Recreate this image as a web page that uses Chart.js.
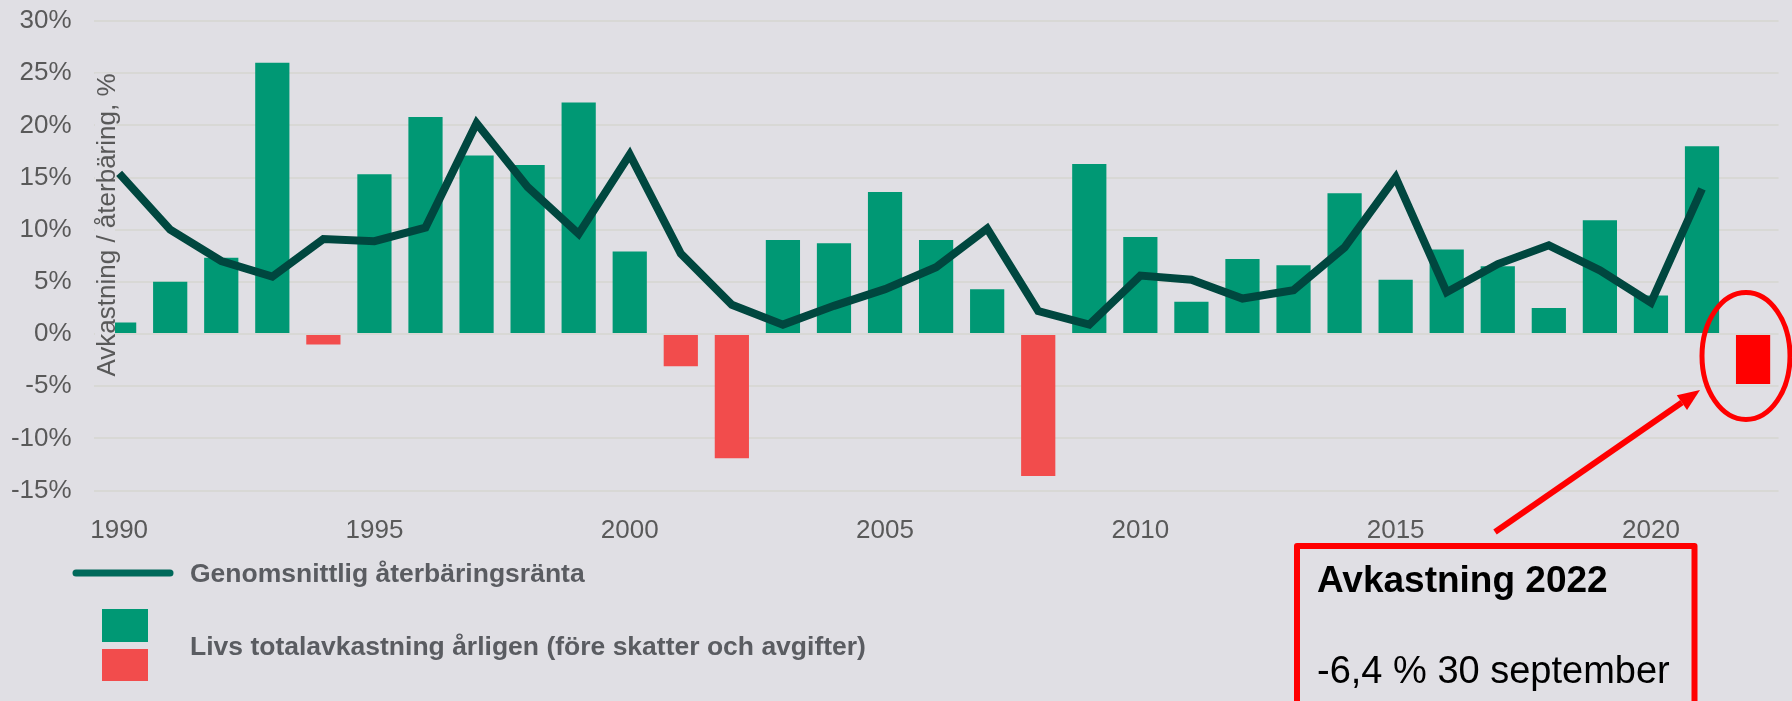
<!DOCTYPE html>
<html><head><meta charset="utf-8">
<script src="https://cdn.jsdelivr.net/npm/chart.js@4.4.0/dist/chart.umd.min.js"></script>
<style>
html,body{margin:0;padding:0;background:#e0dfe4;overflow:hidden}
#wrap{position:relative;width:1792px;height:701px}
</style></head>
<body><div id="wrap"><canvas id="c"></canvas></div>
<script>
// ---- data ----
const years = [1990,1991,1992,1993,1994,1995,1996,1997,1998,1999,2000,2001,2002,2003,2004,2005,2006,2007,2008,2009,2010,2011,2012,2013,2014,2015,2016,2017,2018,2019,2020,2021,2022];
const totalReturn = [1.1,5.0,7.3,26.0,-1.0,15.3,20.8,17.1,16.2,22.2,7.9,-3.1,-11.9,9.0,8.7,13.6,9.0,4.3,-13.6,16.3,9.3,3.1,7.2,6.6,13.5,5.2,8.1,6.5,2.5,10.9,3.7,18.0,-4.8];
const bonusRate = [15.4,10.0,7.0,5.5,9.1,8.9,10.2,20.2,14.1,9.6,17.2,7.7,2.8,0.9,2.7,4.3,6.4,10.1,2.2,0.9,5.6,5.2,3.4,4.2,8.3,15.0,4.0,6.7,8.5,6.1,3.0,13.9,null];
const xTickEvery = 5;
const yMin = -15, yMax = 30, yStep = 5;
const lineLabel = 'Genomsnittlig återbäringsränta';
const barLabel = 'Livs totalavkastning årligen (före skatter och avgifter)';
const yTitle = 'Avkastning / återbäring, %';
const noteTitle = 'Avkastning 2022';
const noteText = '-6,4 % 30 september';

// ---- styles ----
const FAMILY = '"Liberation Sans", Arial, Helvetica, sans-serif';
const BG = '#e0dfe4';
const GREEN = '#009874', RED = '#f24c4c', RED2022 = '#ff0000';
const LINE = '#00473f', LEGLINE = '#00695a';
const TICK = '#595959', LEGTXT = '#5a5c61';

const yTitlePlugin = {
  id: 'yTitleInside',
  afterDatasetDraw(chart, args) {
    if (args.index !== 1) return;
    const ctx = chart.ctx;
    ctx.save();
    ctx.translate(115, 225);
    ctx.rotate(-Math.PI / 2);
    ctx.font = '26px ' + FAMILY;
    const w = ctx.measureText(yTitle).width;
    ctx.fillStyle = BG;
    ctx.fillRect(-w / 2, -20, w, 20);
    ctx.fillStyle = TICK;
    ctx.textAlign = 'center';
    ctx.textBaseline = 'alphabetic';
    ctx.fillText(yTitle, 0, 0);
    ctx.restore();
  }
};

const extrasPlugin = {
  id: 'extras',
  afterDraw(chart) {
    const ctx = chart.ctx;
    ctx.save();
    // legend
    ctx.strokeStyle = LEGLINE; ctx.lineWidth = 7; ctx.lineCap = 'round';
    ctx.beginPath(); ctx.moveTo(76, 573); ctx.lineTo(170, 573); ctx.stroke();
    ctx.fillStyle = GREEN; ctx.fillRect(102, 609, 46, 33);
    ctx.fillStyle = RED; ctx.fillRect(102, 649, 46, 32);
    ctx.fillStyle = LEGTXT; ctx.font = 'bold 26.5px ' + FAMILY;
    ctx.textAlign = 'left'; ctx.textBaseline = 'alphabetic';
    ctx.fillText(lineLabel, 190, 582);
    ctx.fillText(barLabel, 190, 655);
    // annotation box
    ctx.strokeStyle = RED2022; ctx.lineWidth = 6; ctx.lineJoin = 'round';
    ctx.strokeRect(1297, 546, 397.5, 200);
    ctx.fillStyle = '#000';
    ctx.font = 'bold 37px ' + FAMILY;
    ctx.fillText(noteTitle, 1317, 592);
    ctx.font = '38px ' + FAMILY;
    ctx.fillText(noteText, 1317, 683);
    // ellipse
    ctx.lineWidth = 5;
    ctx.beginPath(); ctx.ellipse(1746, 356, 44, 63.5, 0, 0, Math.PI * 2); ctx.stroke();
    // arrow
    const x0 = 1495, y0 = 532, x1 = 1700, y1 = 390;
    const dx = x1 - x0, dy = y1 - y0, L = Math.hypot(dx, dy), ux = dx / L, uy = dy / L;
    const hl = 22, hw = 9;
    ctx.lineWidth = 6; ctx.lineCap = 'butt';
    ctx.beginPath(); ctx.moveTo(x0, y0); ctx.lineTo(x1 - ux * hl, y1 - uy * hl); ctx.stroke();
    ctx.fillStyle = RED2022;
    ctx.beginPath();
    ctx.moveTo(x1, y1);
    ctx.lineTo(x1 - ux * hl - uy * hw, y1 - uy * hl + ux * hw);
    ctx.lineTo(x1 - ux * hl + uy * hw, y1 - uy * hl - ux * hw);
    ctx.closePath(); ctx.fill();
    ctx.restore();
  }
};

new Chart(document.getElementById('c'), {
  data: {
    labels: years.map(String),
    datasets: [
      {
        type: 'line', label: lineLabel, data: bonusRate,
        borderColor: LINE, borderWidth: 8, pointRadius: 0, tension: 0,
        borderJoinStyle: 'miter', borderCapStyle: 'butt', spanGaps: false
      },
      {
        type: 'bar', label: barLabel, data: totalReturn,
        backgroundColor: c => (c.dataIndex === years.length - 1 ? RED2022 : (c.raw < 0 ? RED : GREEN)),
        borderWidth: 0, barPercentage: 0.67, categoryPercentage: 1.0
      }
    ]
  },
  options: {
    responsive: true, maintainAspectRatio: false, animation: false,
    layout: { padding: { left: 0, right: 13.4, top: 21, bottom: 0 } },
    plugins: { legend: { display: false }, tooltip: { enabled: false } },
    scales: {
      x: {
        grid: { display: false }, border: { display: false },
        ticks: {
          autoSkip: false, maxRotation: 0, minRotation: 0, padding: 17, color: TICK,
          font: { size: 26, family: FAMILY },
          callback: (v, i) => (years[i] % xTickEvery === 0 ? String(years[i]) : null)
        },
        afterFit: s => { s.height = 210.5; s.paddingLeft = 0; s.paddingRight = 0; }
      },
      y: {
        min: yMin, max: yMax,
        grid: { color: '#d8d8d5', lineWidth: 2, drawTicks: false }, border: { display: false },
        ticks: { stepSize: yStep, padding: 22, color: TICK, font: { size: 26, family: FAMILY }, callback: v => v + '%' },
        afterFit: s => { s.width = 93.6; s.paddingTop = 0; s.paddingBottom = 0; }
      }
    }
  },
  plugins: [yTitlePlugin, extrasPlugin]
});
</script>
</body></html>
